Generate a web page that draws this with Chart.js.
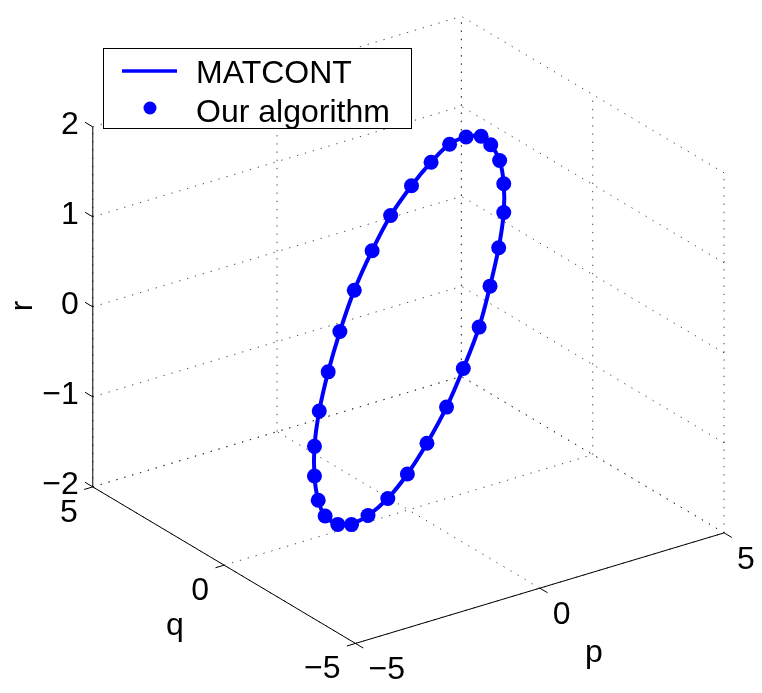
<!DOCTYPE html>
<html>
<head>
<meta charset="utf-8">
<title>Limit cycle</title>
<script src="https://cdn.jsdelivr.net/npm/chart.js@4.4.1/dist/chart.umd.min.js"></script>
<style>
  html, body { margin: 0; padding: 0; background: #fff; }
  #wrap { width: 762px; height: 693px; }
</style>
</head>
<body>
<div id="wrap"><canvas id="cycle" width="762" height="693"></canvas></div>
<script>
// periodic orbit samples (p, q, r)
const pVals = [-2.70, -1.91, -0.98, -0.05, 0.88, 1.81, 2.60, 3.35, 3.86, 4.28,
               4.51, 4.51, 4.32, 3.90, 3.44, 2.74, 1.95, 1.07, 0.14, -0.84,
               -1.72, -2.56, -3.25, -3.81, -4.23, -4.46, -4.46, -4.28, -3.95, -3.35];
const qVals = [-1.62, -1.14, -0.59, -0.03, 0.53, 1.09, 1.56, 2.01, 2.31, 2.57,
               2.70, 2.70, 2.59, 2.34, 2.06, 1.65, 1.17, 0.64, 0.08, -0.50,
               -1.03, -1.53, -1.95, -2.29, -2.54, -2.68, -2.68, -2.57, -2.37, -2.01];
const rVals = [-1.55, -1.63, -1.65, -1.59, -1.46, -1.27, -1.02, -0.73, -0.39, -0.06,
               0.28, 0.60, 0.90, 1.17, 1.37, 1.52, 1.62, 1.62, 1.57, 1.46,
               1.27, 1.02, 0.72, 0.40, 0.06, -0.28, -0.61, -0.92, -1.17, -1.40];

const pTicks = [-5, 0, 5];
const qTicks = [-5, 0, 5];
const rTicks = [-2, -1, 0, 1, 2];
const pLim = [-5, 5];
const qLim = [-5, 5];
const rLim = [-2, 2];

const seriesNames = ['MATCONT', 'Our algorithm'];

// orthographic view of the axes box
const VIEW = { ox: 409, oy: 329.5, p: [37.6, -11.3], q: [-26.8, -16.0], r: -92 };

function project(p, q, r) {
  return {
    x: VIEW.ox + p * VIEW.p[0] + q * VIEW.q[0],
    y: VIEW.oy + p * VIEW.p[1] + q * VIEW.q[1] + r * VIEW.r
  };
}

const orbit = pVals.map((p, i) => project(p, qVals[i], rVals[i]));
const orbitClosed = orbit.concat([orbit[0]]);

const FONT = '32px "Liberation Sans", Arial, Helvetica, sans-serif';
const BLUE = '#0000ff';
const MINUS = '\u2212';

function fmt(v) {
  return v < 0 ? MINUS + Math.abs(v) : String(v);
}

const box3d = {
  id: 'box3d',
  beforeDatasetsDraw(chart) {
    const ctx = chart.ctx;
    const xs = chart.scales.x, ys = chart.scales.y;
    const px = (p, q, r) => {
      const s = project(p, q, r);
      return [xs.getPixelForValue(s.x), ys.getPixelForValue(s.y)];
    };
    const line = (a, b) => {
      ctx.beginPath();
      ctx.moveTo(a[0], a[1]);
      ctx.lineTo(b[0], b[1]);
      ctx.stroke();
    };
    const dir = (a, b, len) => {
      const dx = b[0] - a[0], dy = b[1] - a[1];
      const n = Math.hypot(dx, dy);
      return [dx / n * len, dy / n * len];
    };

    const [p0, p1] = pLim, [q0, q1] = qLim, [r0, r1] = rLim;

    // dotted grid on floor and the two back walls
    ctx.save();
    ctx.strokeStyle = 'rgba(40,40,40,0.85)';
    ctx.lineWidth = 1;
    ctx.setLineDash([1.3, 6.9]);
    pTicks.forEach(p => line(px(p, q0, r0), px(p, q1, r0)));
    qTicks.forEach(q => line(px(p0, q, r0), px(p1, q, r0)));
    pTicks.forEach(p => line(px(p, q1, r0), px(p, q1, r1)));
    rTicks.forEach(r => line(px(p0, q1, r), px(p1, q1, r)));
    qTicks.forEach(q => line(px(p1, q, r0), px(p1, q, r1)));
    rTicks.forEach(r => line(px(p1, q0, r), px(p1, q1, r)));
    ctx.restore();

    // axis lines
    ctx.save();
    ctx.strokeStyle = '#000';
    ctx.lineWidth = 1;
    line(px(p0, q1, r0), px(p0, q1, r1));
    line(px(p0, q0, r0), px(p0, q1, r0));
    line(px(p0, q0, r0), px(p1, q0, r0));

    // tick marks
    const tl = 9;
    rTicks.forEach(r => {
      const a = px(p0, q1, r), d = dir(a, px(p0, q1 + 1, r), tl);
      line(a, [a[0] + d[0], a[1] + d[1]]);
    });
    qTicks.forEach(q => {
      const a = px(p0, q, r0), d = dir(a, px(p0 - 1, q, r0), tl);
      line(a, [a[0] + d[0], a[1] + d[1]]);
    });
    pTicks.forEach(p => {
      const a = px(p, q0, r0), d = dir(a, px(p, q0 - 1, r0), tl);
      line(a, [a[0] + d[0], a[1] + d[1]]);
    });

    // tick labels
    ctx.fillStyle = '#000';
    ctx.font = FONT;
    ctx.textBaseline = 'alphabetic';
    ctx.textAlign = 'right';
    rTicks.forEach(r => {
      const a = px(p0, q1, r);
      ctx.fillText(fmt(r), a[0] - 14, a[1] + 7);
    });
    qTicks.forEach(q => {
      const a = px(p0, q, r0);
      ctx.fillText(fmt(q), a[0] - 15, a[1] + 35);
    });
    ctx.textAlign = 'left';
    pTicks.forEach(p => {
      const a = px(p, q0, r0);
      ctx.fillText(fmt(p), a[0] + 13, a[1] + 36);
    });

    // axis titles
    ctx.textAlign = 'center';
    ctx.fillText('p', 594, 662);
    ctx.fillText('q', 175, 635);
    ctx.translate(32, 306);
    ctx.rotate(-Math.PI / 2);
    ctx.fillText('r', 0, 0);
    ctx.restore();
  },
  afterDraw(chart) {
    const ctx = chart.ctx;
    ctx.save();
    ctx.fillStyle = '#fff';
    ctx.fillRect(103, 48, 309, 81);
    ctx.strokeStyle = '#000';
    ctx.lineWidth = 1;
    ctx.strokeRect(103.5, 48.5, 308, 80);

    ctx.strokeStyle = BLUE;
    ctx.lineWidth = 3.5;
    ctx.beginPath();
    ctx.moveTo(122, 71);
    ctx.lineTo(177, 71);
    ctx.stroke();

    ctx.fillStyle = BLUE;
    ctx.beginPath();
    ctx.arc(150, 108, 6.5, 0, Math.PI * 2);
    ctx.fill();

    ctx.fillStyle = '#000';
    ctx.font = FONT;
    ctx.textAlign = 'left';
    ctx.textBaseline = 'alphabetic';
    ctx.fillText(seriesNames[0], 196, 83);
    ctx.fillText(seriesNames[1], 196, 122);
    ctx.restore();
  }
};

new Chart(document.getElementById('cycle'), {
  type: 'scatter',
  data: {
    datasets: [
      {
        label: seriesNames[1],
        data: orbit,
        order: 1,
        showLine: false,
        pointRadius: 7.5,
        pointBackgroundColor: BLUE,
        pointBorderWidth: 0,
        pointHoverRadius: 7.5
      },
      {
        label: seriesNames[0],
        data: orbitClosed,
        order: 2,
        showLine: true,
        borderColor: BLUE,
        borderWidth: 4,
        tension: 0.35,
        pointRadius: 0,
        pointHoverRadius: 0
      }
    ]
  },
  options: {
    responsive: false,
    animation: false,
    layout: { padding: 0 },
    scales: {
      x: { type: 'linear', min: 0, max: 762, display: false },
      y: { type: 'linear', min: 0, max: 693, reverse: true, display: false }
    },
    plugins: {
      legend: { display: false },
      tooltip: { enabled: false }
    }
  },
  plugins: [box3d]
});
</script>
</body>
</html>
